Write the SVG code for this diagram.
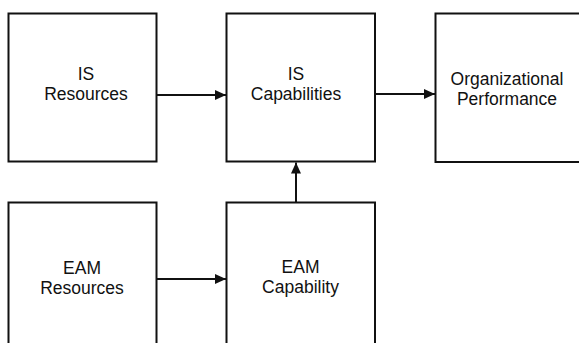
<svg xmlns="http://www.w3.org/2000/svg" width="579" height="343" viewBox="0 0 579 343">
<style>
.box{fill:#fff;stroke:#111;stroke-width:2}
.lbl{font-family:"Liberation Sans",Arial,sans-serif;font-size:17.5px;fill:#111;text-anchor:middle}
.edge{stroke:#111;stroke-width:2;fill:none;marker-end:url(#ah)}
</style>
<defs>
<marker id="ah" markerWidth="11" markerHeight="10" viewBox="0 0 11 10" refX="11" refY="5" markerUnits="userSpaceOnUse" orient="auto">
<path d="M0,0 L11,5 L0,10 Z" fill="#111"/>
</marker>
</defs>
<rect width="579" height="343" fill="#fff"/>
<g id="is-resources">
<rect class="box" x="8.5" y="13.5" width="148" height="148"/>
<text class="lbl" x="86" y="80">IS</text>
<text class="lbl" x="86" y="100">Resources</text>
</g>
<g id="is-capabilities">
<rect class="box" x="226.5" y="13.5" width="148.5" height="148"/>
<text class="lbl" x="296" y="80">IS</text>
<text class="lbl" x="296" y="100">Capabilities</text>
</g>
<g id="org-performance">
<rect class="box" x="435.5" y="13.5" width="160" height="148.5"/>
<text class="lbl" x="507" y="84.5">Organizational</text>
<text class="lbl" x="507" y="105">Performance</text>
</g>
<g id="eam-resources">
<rect class="box" x="8.5" y="202.5" width="148" height="160"/>
<text class="lbl" x="82" y="274">EAM</text>
<text class="lbl" x="82" y="294">Resources</text>
</g>
<g id="eam-capability">
<rect class="box" x="226.5" y="202.5" width="148.5" height="160"/>
<text class="lbl" x="300.5" y="273">EAM</text>
<text class="lbl" x="300.5" y="293">Capability</text>
</g>
<g id="connectors">
<line class="edge" x1="157" y1="95" x2="226" y2="95"/>
<line class="edge" x1="375" y1="94" x2="435" y2="94"/>
<line class="edge" x1="296" y1="202" x2="296" y2="162.5"/>
<line class="edge" x1="157" y1="279" x2="226" y2="279"/>
</g>
</svg>
